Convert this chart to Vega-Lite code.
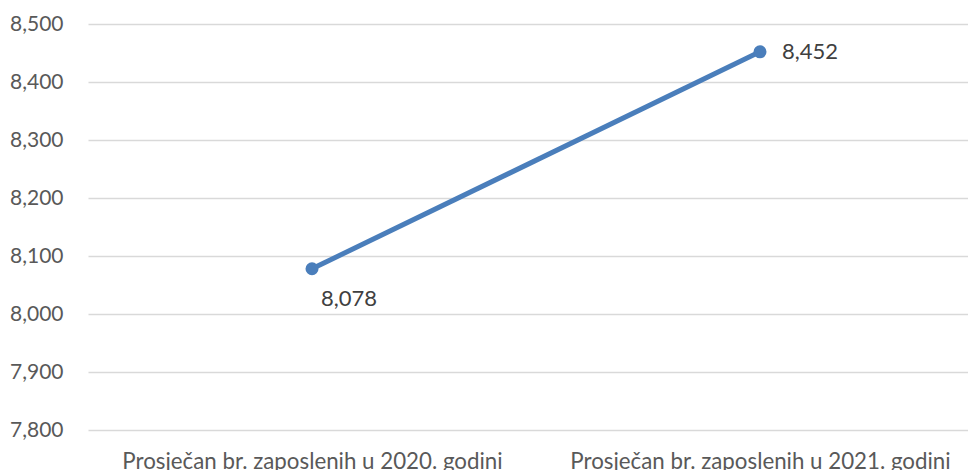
{
  "$schema": "https://vega.github.io/schema/vega-lite/v6.json",
  "autosize": "none",
  "padding": {"left": 88, "top": 24, "right": 0, "bottom": 40},
  "width": 896,
  "height": 406,
  "background": "white",
  "config": {
    "view": {"stroke": null},
    "font": "Lato"
  },
  "data": {
    "values": [
      {"category": "Prosječan br. zaposlenih u 2020. godini", "value": 8078},
      {"category": "Prosječan br. zaposlenih u 2021. godini", "value": 8452}
    ]
  },
  "encoding": {
    "x": {
      "field": "category",
      "type": "nominal",
      "sort": null,
      "scale": {"type": "point", "padding": 0.5},
      "axis": {
        "title": null,
        "labelAngle": 0,
        "domain": false,
        "ticks": false,
        "labelLimit": 0,
        "labelFontSize": 22.3,
        "labelColor": "#595959",
        "labelPadding": 20,
        "labelFont": "Lato"
      }
    },
    "y": {
      "field": "value",
      "type": "quantitative",
      "scale": {"domain": [7800, 8500], "nice": false, "zero": false},
      "axis": {
        "title": null,
        "values": [7800, 7900, 8000, 8100, 8200, 8300, 8400, 8500],
        "format": ",.0f",
        "domain": false,
        "ticks": false,
        "gridColor": "#d9d9d9",
        "gridWidth": 1.5,
        "labelFontSize": 21,
        "labelColor": "#595959",
        "labelPadding": 25,
        "labelFont": "Lato"
      }
    }
  },
  "layer": [
    {"mark": {"type": "line", "color": "#4a7ebb", "strokeWidth": 5}},
    {"mark": {"type": "point", "filled": true, "color": "#4a7ebb", "size": 170, "opacity": 1}},
    {
      "transform": [{"filter": "datum.value == 8078"}],
      "mark": {"type": "text", "fontSize": 22, "color": "#404040", "dx": 37, "dy": 30, "font": "Lato"},
      "encoding": {"text": {"field": "value", "type": "quantitative", "format": ",.0f"}}
    },
    {
      "transform": [{"filter": "datum.value == 8452"}],
      "mark": {"type": "text", "fontSize": 22, "color": "#404040", "align": "left", "dx": 22, "dy": 0, "font": "Lato"},
      "encoding": {"text": {"field": "value", "type": "quantitative", "format": ",.0f"}}
    }
  ]
}
